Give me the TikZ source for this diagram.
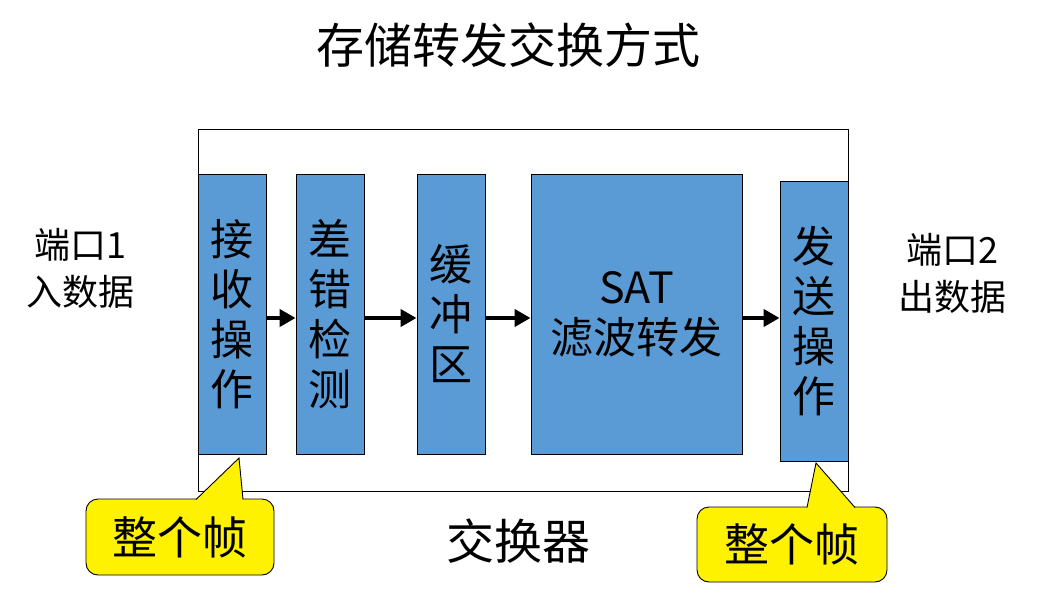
\documentclass[tikz,border=0pt]{standalone}
\usepackage{fontspec}
\setmainfont{Noto Sans CJK SC}
\usetikzlibrary{arrows.meta}
\definecolor{blk}{HTML}{5B9BD5}
\tikzset{
  x=1pt, y=-1pt,
  blkbox/.style={draw=black, line width=0.9pt, fill=blk, inner sep=0pt, align=center,
    font=\fontsize{43}{50}\selectfont},
  arr/.style={line width=4.5pt, -{Triangle[length=16pt,width=17pt]}},
  callbox/.style={draw=black, line width=0.9pt, fill=yellow, rounded corners=12pt,
    minimum width=188pt, minimum height=76pt, inner sep=0pt, font=\fontsize{45}{50}\selectfont},
  lbl/.style={align=center, font=\fontsize{36}{47}\selectfont, inner sep=0pt},
  big/.style={font=\fontsize{48}{50}\selectfont, inner sep=0pt}
}
\begin{document}
\begin{tikzpicture}
\useasboundingbox (0,0) rectangle (1041,599);
\node[big] (title) at (508,45) {存储转发交换方式};
\node[draw=black, line width=0.9pt, minimum width=650pt, minimum height=362pt, inner sep=0pt] (sw) at (523,310) {};
\node[big] (swl) at (518,541) {交换器};
\node[blkbox, minimum width=68pt, minimum height=280pt] (rx) at (232,314) {接\\收\\操\\作};
\node[blkbox, minimum width=68pt, minimum height=280pt] (err) at (330,314) {差\\错\\检\\测};
\node[blkbox, minimum width=68pt, minimum height=280pt] (buf) at (451,314) {缓\\冲\\区};
\node[blkbox, minimum width=211pt, minimum height=280pt] (sat) at (636.5,314) {SAT\\滤波转发};
\node[blkbox, minimum width=68pt, minimum height=280pt] (tx) at (814,321) {发\\送\\操\\作};
\node[lbl] (p1) at (80,268) {端口1\\入数据};
\node[lbl] (p2) at (952,273) {端口2\\出数据};
\draw[arr] ([yshift=-4pt]rx.east) -- ([yshift=-4pt]err.west);
\draw[arr] ([yshift=-4pt]err.east) -- ([yshift=-4pt]buf.west);
\draw[arr] ([yshift=-4pt]buf.east) -- ([yshift=-4pt]sat.west);
\draw[arr] ([yshift=-4pt]sat.east) -- (tx.west |- 0,318);
% callouts
\node[callbox] (c1) at (180,537) {整个帧};
\coordinate (t1) at (239,458);
\fill[yellow] (196,500) -- (t1) -- (243,500) -- cycle;
\draw[line width=0.9pt] (196,499.5) -- (t1) -- (243,499.5);
\node[callbox, minimum width=190pt, minimum height=75pt] (c2) at (792,544.5) {整个帧};
\coordinate (t2) at (816,463);
\fill[yellow] (807,508) -- (t2) -- (855,508) -- cycle;
\draw[line width=0.9pt] (807,507.5) -- (t2) -- (855,507.5);
\end{tikzpicture}
\end{document}
